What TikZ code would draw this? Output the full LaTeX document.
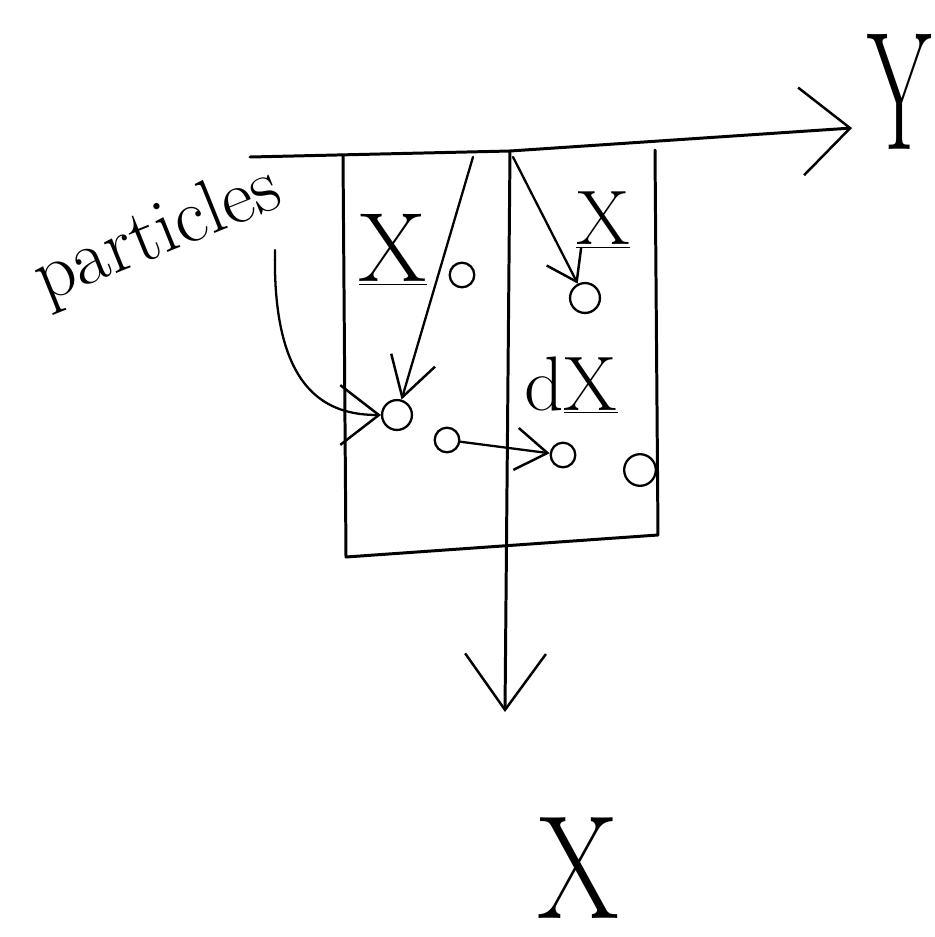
\documentclass[tikz,border=0pt]{standalone}
\usetikzlibrary{arrows.meta}
\begin{document}
\begin{tikzpicture}[x=0.02cm,y=-0.02cm,
  axisline/.style={line width=1.7pt, line cap=round, line join=round},
  vecline/.style={line width=1.3pt, line cap=round},
  barbtip/.style 2 args={-{Straight Barb[length=#1pt,width=#2pt,line width=1.4pt]}},
  particle/.style={circle, draw, line width=1.3pt, inner sep=0pt, minimum size=#1},
  lbl/.style={inner sep=0pt, font=\fontsize{40}{40}\selectfont}]
\useasboundingbox (0,0) rectangle (934,937);

% axes
\coordinate (Ystart) at (250,157);
\coordinate (O) at (510,151);
\coordinate (Yend) at (852,128);
\coordinate (Xend) at (505,712);
\draw[axisline] (Ystart) -- (O);
\draw[axisline, barbtip={28}{50}] (O) -- (Yend);
\draw[axisline, barbtip={32}{46}] (O) -- (Xend);

% box
\coordinate (TL) at (343,155);
\coordinate (BL) at (346,557);
\coordinate (BR) at (658,535);
\coordinate (TR) at (655,150);
\draw[axisline] (TL) -- (BL) -- (BR) -- (TR);

% axis labels
\node[inner sep=0pt, font=\fontsize{96}{96}\selectfont, xscale=0.55] (Ylab) at (900,92) {Y};
\node[inner sep=0pt, font=\fontsize{84}{84}\selectfont, xscale=0.8] (Xlab) at (578,868) {X};

% particles
\node[particle=14pt] (p1) at (462,275) {};
\node[particle=17pt] (p2) at (585,298) {};
\node[particle=17pt] (p3) at (397,415) {};
\node[particle=14pt] (p4) at (447,440) {};
\node[particle=14pt] (p5) at (563,455) {};
\node[particle=18pt] (p6) at (640,470) {};

% vectors
\coordinate (a1) at (473,157);
\coordinate (a2) at (513,157);
\draw[vecline, barbtip={22}{26}] (a1) -- (p3);
\draw[vecline, barbtip={16}{22}] (a2) -- (p2);
\draw[vecline, barbtip={18}{24}] (p4) -- (p5);

% vector labels
\node[lbl, font=\fontsize{56}{56}\selectfont] (xl1) at (393,250) {\underline{X}};
\node[lbl, font=\fontsize{44}{44}\selectfont] (xl2) at (603,220) {\underline{X}};
\node[lbl, font=\fontsize{44}{44}\selectfont] (dx) at (571,385) {d\underline{X}};

% particles label and pointer
\node[lbl, font=\fontsize{44}{44}\selectfont, rotate=22] (plab) at (158,236) {particles};
\coordinate (c1) at (275,250);
\draw[vecline, barbtip={22}{34}] (c1) .. controls (272,395) and (330,415) .. (p3);
\end{tikzpicture}
\end{document}
